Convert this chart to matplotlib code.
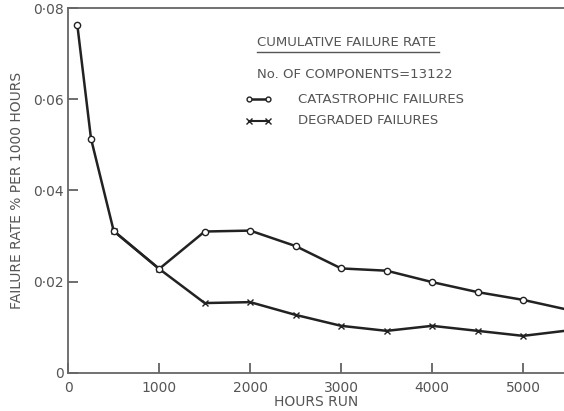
import matplotlib
matplotlib.use('Agg')
import matplotlib.pyplot as plt
from matplotlib.ticker import FuncFormatter

# data
hours_cat = [100, 250, 500, 1000, 1500, 2000, 2500, 3000, 3500, 4000, 4500, 5000, 5500]
rate_cat = [0.0763, 0.0514, 0.0311, 0.0228, 0.0310, 0.0312, 0.0278, 0.0229, 0.0224, 0.0199, 0.0177, 0.0160, 0.0138]

hours_deg = [500, 1000, 1500, 2000, 2500, 3000, 3500, 4000, 4500, 5000, 5500]
rate_deg = [0.0311, 0.0228, 0.0153, 0.0155, 0.0127, 0.0103, 0.0092, 0.0103, 0.0092, 0.0081, 0.0093]

x_ticks = [0, 1000, 2000, 3000, 4000, 5000]
y_ticks = [0, 0.02, 0.04, 0.06, 0.08]

INK = '#222222'
TXT = '#555555'

fig = plt.figure(figsize=(5.64, 4.11), dpi=100)
ax = fig.add_axes([0.121, 0.093, 0.879, 0.887])

ax.plot(hours_cat, rate_cat, color=INK, lw=1.8, marker='o', ms=4.5,
        mfc='white', mec=INK, mew=1.0, zorder=3)
ax.plot(hours_deg, rate_deg, color=INK, lw=1.8, marker='x', ms=5,
        mec=INK, mew=1.0, zorder=2)

ax.set_xlim(0, 5450)
ax.set_ylim(0, 0.08)
ax.set_xticks(x_ticks)
ax.set_yticks(y_ticks)


def fmt(v, pos):
    if v == 0:
        return '0'
    return f'{v:.2f}'.replace('.', '\u00b7')


ax.yaxis.set_major_formatter(FuncFormatter(fmt))
ax.tick_params(direction='in', length=7, width=1.2, colors=TXT,
               labelsize=10, labelcolor=TXT)
ax.tick_params(axis='x', pad=6)
for s in ['left', 'bottom', 'top']:
    ax.spines[s].set_color('#666666')
    ax.spines[s].set_linewidth(1.3)
ax.spines['right'].set_visible(False)

ax.set_xlabel('HOURS RUN', color=TXT, fontsize=10, labelpad=0)
ax.set_ylabel('FAILURE RATE % PER 1000 HOURS', color=TXT, fontsize=10, labelpad=6)

# legend block drawn as text, like the original figure
tkw = dict(transform=fig.transFigure, color=TXT, fontsize=9.5, va='center')
fig.text(0.456, 0.897, 'CUMULATIVE FAILURE RATE', **tkw)
fig.add_artist(plt.Line2D([0.456, 0.779], [0.873, 0.873], color=TXT, lw=1.0))
fig.text(0.456, 0.818, 'No. OF COMPONENTS=13122', **tkw)
fig.add_artist(plt.Line2D([0.441, 0.475], [0.759, 0.759], color=INK, lw=1.8,
                          marker='o', ms=3.5, mfc='white', mec=INK,
                          markevery=[0, 1]))
fig.text(0.528, 0.759, 'CATASTROPHIC FAILURES', **tkw)
fig.add_artist(plt.Line2D([0.441, 0.475], [0.706, 0.706], color=INK, lw=1.5,
                          marker='x', ms=4, mec=INK, markevery=[0, 1]))
fig.text(0.528, 0.706, 'DEGRADED FAILURES', **tkw)

plt.savefig('out.png', dpi=100)
